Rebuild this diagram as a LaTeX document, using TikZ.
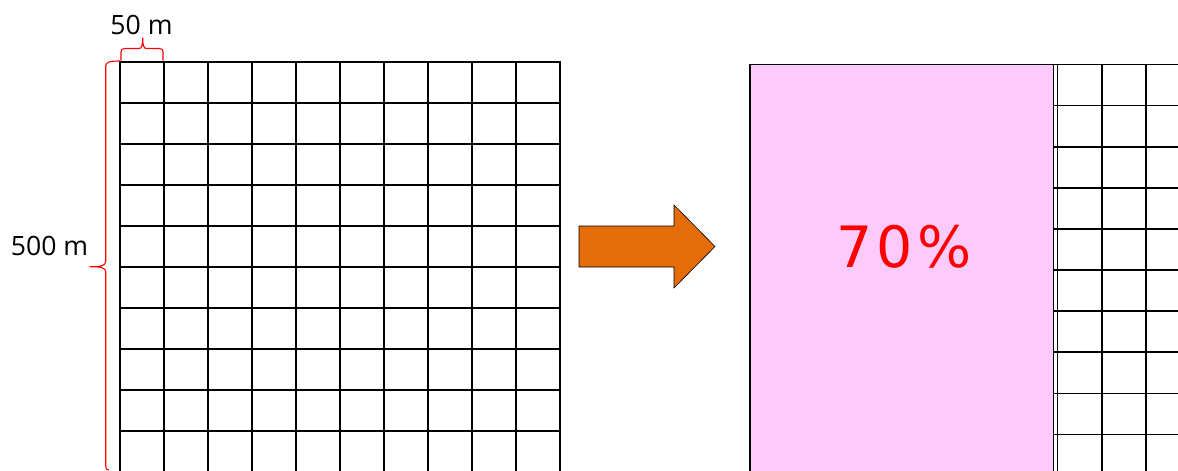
\documentclass[tikz,border=0pt]{standalone}
\usepackage{fontspec}
\setmainfont{Open Sans}
\newfontfamily\pctfont[LetterSpace=8]{DejaVu Sans}
\usetikzlibrary{positioning}
\definecolor{arroworange}{HTML}{E46C0A}
\definecolor{areapink}{HTML}{FCCBFC}

\begin{document}
\begin{tikzpicture}[
    x=1pt, y=-1pt,
    gridline/.style={line width=1.6pt, black},
    bracket/.style={red, line width=1.1pt, line join=round},
    dimlabel/.style={font=\fontsize{26.6}{30}\selectfont, inner sep=0pt, anchor=base},
    pctlabel/.style={font=\pctfont\fontsize{57}{60}\selectfont, text=red, inner sep=0pt, anchor=base},
    bigarrow/.style={fill=arroworange, draw=black, line width=0.6pt, line join=miter}
]
\useasboundingbox (0,0) rectangle (1178,471);

\begin{scope}
\clip (0,0) rectangle (1178,471);
% Pink area
\draw[fill=areapink, draw=black, line width=1.3pt] (750,64.5) rectangle (1053.5,490);

% Left grid
\foreach \i in {0,...,10} \draw[gridline] (120+44*\i,62) -- (120+44*\i,480);
\foreach \j in {0,...,10} \draw[gridline] (119.2,62+41*\j) -- (560.8,62+41*\j);

% Right grid
\foreach \j in {0,...,10} \draw[gridline] (1053,64.5+41.1*\j) -- (1180,64.5+41.1*\j);
\foreach \i in {0,...,3} \draw[gridline] (1057.5+44.3*\i,64.5) -- (1057.5+44.3*\i,480);
\end{scope}

% Arrow
\draw[bigarrow] (579,226) -- (674,226) -- (674,205) -- (715,246.5)
    -- (674,288) -- (674,267) -- (579,267) -- cycle;

% Braces
\draw[bracket] (121,60.5) -- (121,52) .. controls (121,49.5) and (122,48.5) .. (125,48.5)
    -- (139,48.5) .. controls (141.5,48.5) and (142.7,46) .. (142.7,38)
    .. controls (142.7,46) and (144,48.5) .. (146.5,48.5)
    -- (159,48.5) .. controls (162,48.5) and (163,49.5) .. (163,52) -- (163,60.5);
\draw[bracket] (120,61) .. controls (110,61) and (105.7,62) .. (105.7,66)
    -- (105.7,261) .. controls (105.7,265.5) and (102,266.7) .. (90,266.7)
    .. controls (102,266.7) and (105.7,268) .. (105.7,272)
    -- (105.7,466) .. controls (105.7,469) and (106.5,470) .. (109,470);

% Labels
\node[dimlabel] (widthlabel) at (141.5,34.3) {50 m};
\node[dimlabel] (heightlabel) at (49.5,255.3) {500 m};
\node[pctlabel] (share) at (904,267) {70\%};

\end{tikzpicture}
\end{document}
